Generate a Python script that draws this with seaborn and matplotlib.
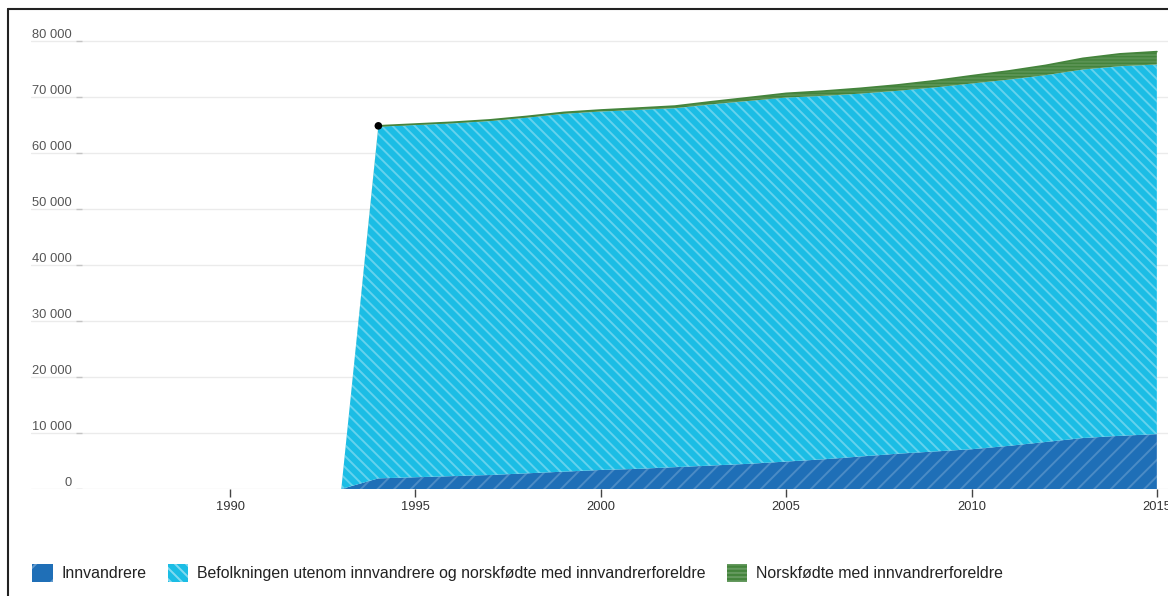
import matplotlib
matplotlib.use("Agg")
import matplotlib.pyplot as plt
import seaborn as sns
import pandas as pd
from matplotlib.patches import Patch
from matplotlib.lines import Line2D
from matplotlib.transforms import ScaledTranslation

# Population by group, 1993-2015
years = list(range(1993, 2016))
innvandrere = [0, 1900, 2100, 2300, 2500, 2800, 3100, 3400, 3600, 3900, 4200, 4500,
               4900, 5300, 5800, 6300, 6700, 7100, 7700, 8400, 9100, 9500, 9800]
befolkning_ovrige = [0, 62800, 62900, 63000, 63200, 63500, 63900, 64000, 64100, 64100,
                     64500, 64800, 65000, 64900, 64800, 64800, 65000, 65300, 65400,
                     65500, 65800, 66000, 66000]
norskfodte = [0, 150, 170, 190, 210, 230, 250, 280, 320, 380, 470, 600, 750, 850, 950,
              1050, 1200, 1400, 1550, 1750, 2000, 2200, 2300]

series_names = ["Innvandrere",
                "Befolkningen utenom innvandrere og norskfødte med innvandrerforeldre",
                "Norskfødte med innvandrerforeldre"]
y_ticks = [0, 10000, 20000, 30000, 40000, 50000, 60000, 70000, 80000]
y_tick_labels = ["0", "10 000", "20 000", "30 000", "40 000", "50 000", "60 000",
                 "70 000", "80 000"]
x_ticks = [1990, 1995, 2000, 2005, 2010, 2015]
highlight_year = 1994

COL_BLUE = "#1f6fb7"
COL_CYAN = "#1bbde5"
COL_GREEN = "#44843c"

HATCH_BLUE = "//"
HATCH_CYAN = "\\\\\\"
HATCH_GREEN = "-----"

sns.set_theme(style="white")
plt.rcParams["font.family"] = ["Liberation Sans", "DejaVu Sans"]
plt.rcParams["hatch.linewidth"] = 1.4

df = pd.DataFrame({"year": years, "innv": innvandrere, "ovr": befolkning_ovrige,
                   "nf": norskfodte})
df["lvl1"] = df["innv"]
df["lvl2"] = df["lvl1"] + df["ovr"]
df["lvl3"] = df["lvl2"] + df["nf"]

fig = plt.figure(figsize=(11.68, 5.96), dpi=100)
W, H = 1168, 596
ax = fig.add_axes([31 / W, (H - 489) / H, 1137 / W, (489 - 35.4) / H])
ax.set_xlim(1984.63, 2015.30)
ax.set_ylim(0, 81000)

for s in ax.spines.values():
    s.set_visible(False)

# gridlines
ax.set_yticks(y_ticks)
ax.yaxis.grid(True, color="#ebebeb", linewidth=1)
ax.set_axisbelow(True)
ax.tick_params(axis="y", length=0, labelleft=False)

# stacked areas
ax.fill_between(df["year"], 0, df["lvl1"], facecolor=COL_BLUE,
                edgecolor=(1, 1, 1, 0.2), linewidth=0, hatch=HATCH_BLUE, zorder=2)
ax.fill_between(df["year"], df["lvl1"], df["lvl2"], facecolor=COL_CYAN,
                edgecolor=(1, 1, 1, 0.32), linewidth=0, hatch=HATCH_CYAN, zorder=2)
ax.fill_between(df["year"], df["lvl2"], df["lvl3"], facecolor=COL_GREEN,
                edgecolor=(1, 1, 1, 0.12), linewidth=0, hatch=HATCH_GREEN, zorder=2)

sns.lineplot(data=df[df["year"] >= 1994], x="year", y="lvl3", color=COL_GREEN,
             linewidth=1.2, ax=ax, zorder=3)
sns.scatterplot(data=df[df["year"] == highlight_year], x="year", y="lvl3",
                color="black", s=30, ax=ax, zorder=4, edgecolor="none")
ax.set_xlabel("")
ax.set_ylabel("")

# y labels sit just above their gridlines, with a small tick mark
lab_tr = ax.get_yaxis_transform() + ScaledTranslation(0, 0.06, fig.dpi_scale_trans)
for v, t in zip(y_ticks, y_tick_labels):
    ax.text(41 / 1137, v, t, transform=lab_tr, ha="right", va="center",
            fontsize=9.3, color="#555555")
ax.hlines(y_ticks, 45 / 1137, 51 / 1137, transform=ax.get_yaxis_transform(),
          color="#c4c4c4", linewidth=1, zorder=1)

ax.set_xticks(x_ticks)
ax.set_xticklabels([str(x) for x in x_ticks])
ax.tick_params(axis="x", bottom=True, length=6, width=1, color="#444444",
               labelsize=9.3, labelcolor="#333333", pad=3)

# legend
handles = [Patch(facecolor=COL_BLUE, edgecolor=(1, 1, 1, 0.3), linewidth=0,
                 hatch="/"),
           Patch(facecolor=COL_CYAN, edgecolor=(1, 1, 1, 0.45), linewidth=0,
                 hatch=HATCH_CYAN),
           Patch(facecolor=COL_GREEN, edgecolor=(1, 1, 1, 0.18), linewidth=0,
                 hatch="----")]
fig.legend(handles, series_names, loc="center left",
           bbox_to_anchor=(32 / W, 1 - 573 / H), ncol=3, frameon=False,
           prop={"family": ["Liberation Sans"], "size": 11.4},
           handlelength=1.3, handleheight=1.3, handletextpad=0.55,
           columnspacing=1.35, borderpad=0, borderaxespad=0, labelcolor="#222222")

# outer frame (left and top edges)
fig.add_artist(Line2D([8 / W, 8 / W], [0, 1 - 9 / H], transform=fig.transFigure,
                      color="#222222", linewidth=1.5))
fig.add_artist(Line2D([8 / W, 1], [1 - 9 / H, 1 - 9 / H], transform=fig.transFigure,
                      color="#222222", linewidth=1.5))

fig.savefig("out.png", dpi=100)
